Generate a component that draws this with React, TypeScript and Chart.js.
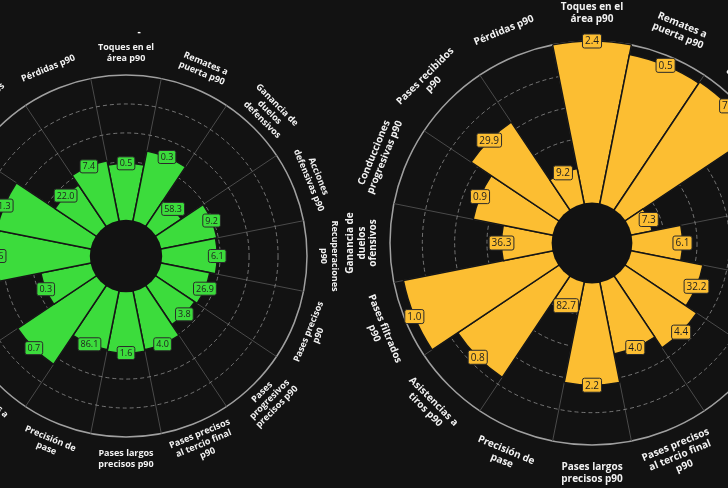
import React, { useEffect, useRef } from "react";
import { Chart, registerables } from "chart.js";
Chart.register(...registerables);

const BG = "#121212";

const categories: string[][] = [
  ["Toques en el", "área p90"],
  ["Remates a", "puerta p90"],
  ["Ganancia de", "duelos", "defensivos"],
  ["Acciones", "defensivas p90"],
  ["Recuperaciones", "p90"],
  ["Pases precisos", "p90"],
  ["Pases", "progresivos", "precisos p90"],
  ["Pases precisos", "al tercio final", "p90"],
  ["Pases largos", "precisos p90"],
  ["Precisión de", "pase"],
  ["Asistencias a", "tiros p90"],
  ["Pases filtrados", "p90"],
  ["Ganancia de", "duelos", "ofensivos"],
  ["Conducciones", "progresivas p90"],
  ["Pases recibidos", "p90"],
  ["Pérdidas p90"],
];

// percentile ranks (bar length)
const leftPercentiles = [39, 49, 21, 39, 38, 34, 32, 41, 42, 41, 65, 35, 64, 66, 34, 42];
// raw values shown in the boxes
const leftValues = ["0.5", "0.3", "58.3", "9.2", "6.1", "26.9", "3.8", "4.0", "1.6", "86.1", "0.7", "0.3", "0.6", "1.3", "22.0", "7.4"];

const rightPercentiles = [100, 94, 95, 13, 31, 45, 53, 45, 63, 17, 75, 94, 31, 50, 65, 22];
const rightValues = ["2.4", "0.5", "7.7", "7.3", "6.1", "32.2", "4.4", "4.0", "2.2", "82.7", "0.8", "1.0", "36.3", "0.9", "29.9", "9.2"];

const gridValues = [0, 20, 40, 60, 80, 100];

type PizzaProps = {
  pct: number[];
  vals: string[];
  color: string;
  R: number;
  pad: number;
  labelGap: number;
  labelFont: number;
  lineH: number;
  boxFont: number;
  left: number;
  top: number;
  title?: string;
};

function Pizza(p: PizzaProps) {
  const ref = useRef<HTMLCanvasElement>(null);
  const S = 2 * (p.R + p.pad);
  useEffect(() => {
    if (!ref.current) return;
    const setTicks = (sc: any) => {
      sc.ticks = gridValues.map((v) => ({ value: v }));
    };
    const decor = {
      id: "pizzaDecor",
      afterDatasetsDraw(chart: any) {
        const s = chart.scales.r;
        const ctx = chart.ctx;
        ctx.save();
        ctx.fillStyle = BG;
        ctx.beginPath();
        ctx.arc(s.xCenter, s.yCenter, s.getDistanceFromCenterForValue(0), 0, Math.PI * 2);
        ctx.fill();
        ctx.restore();
      },
      afterDraw(chart: any) {
        const s = chart.scales.r;
        const ctx = chart.ctx;
        const n = categories.length;
        const xc = s.xCenter;
        const yc = s.yCenter;
        const R = s.drawingArea;
        ctx.save();
        // category labels
        ctx.fillStyle = "#f2f2f2";
        ctx.textAlign = "center";
        ctx.textBaseline = "middle";
        ctx.font = `bold ${p.labelFont}px "Open Sans"`;
        for (let i = 0; i < n; i++) {
          const a = s.getIndexAngle(i) + Math.PI / n;
          let deg = ((a * 180) / Math.PI) % 360;
          if (deg < 0) deg += 360;
          const d = R + p.labelGap;
          const x = xc + d * Math.sin(a);
          const y = yc - d * Math.cos(a);
          const rot = deg > 90.5 && deg < 269.5 ? deg - 180 : deg;
          const lines = categories[i];
          ctx.save();
          ctx.translate(x, y);
          ctx.rotate((rot * Math.PI) / 180);
          lines.forEach((ln, k) => {
            ctx.fillText(ln, 0, (k - (lines.length - 1) / 2) * p.lineH);
          });
          ctx.restore();
        }
        // value boxes
        ctx.font = `${p.boxFont}px "Open Sans"`;
        for (let i = 0; i < n; i++) {
          const a = s.getIndexAngle(i) + Math.PI / n;
          const r = s.getDistanceFromCenterForValue(p.pct[i]);
          const bx = xc + r * Math.sin(a);
          const by = yc - r * Math.cos(a);
          const tw = ctx.measureText(p.vals[i]).width;
          const w = tw + 5;
          const h = p.boxFont + 4;
          ctx.beginPath();
          ctx.roundRect(bx - w / 2, by - h / 2, w, h, 2);
          ctx.fillStyle = p.color;
          ctx.fill();
          ctx.lineWidth = 1;
          ctx.strokeStyle = "#2a2a2a";
          ctx.stroke();
          ctx.fillStyle = "#1e1e1e";
          ctx.fillText(p.vals[i], bx, by + 0.5);
        }
        if (p.title) {
          ctx.fillStyle = "#ffffff";
          ctx.font = `bold 10px "Open Sans"`;
          ctx.fillText(p.title, xc + 13, yc - 224);
        }
        ctx.restore();
      },
    };
    const chart = new Chart(ref.current, {
      type: "polarArea",
      data: {
        labels: categories.map((c) => c.join(" ")),
        datasets: [
          {
            data: p.pct,
            backgroundColor: p.color,
            borderColor: "#161616",
            borderWidth: 1.5,
            rAxisID: "r",
          } as any,
        ],
      },
      options: {
        animation: false,
        responsive: false,
        events: [],
        layout: { padding: p.pad },
        plugins: { legend: { display: false }, tooltip: { enabled: false } },
        scales: {
          r: {
            type: "radialLinear",
            min: -25,
            max: 100,
            startAngle: -11.25,
            afterBuildTicks: setTicks,
            ticks: { display: false },
            pointLabels: { display: false },
            angleLines: { display: true, color: "#4a4a4a", lineWidth: 1 },
            grid: {
              circular: true,
              lineWidth: 1.5,
              color: (c: any) => (c.tick && c.tick.value === 100 ? "#a0a0a0" : "rgba(0,0,0,0)"),
            },
          },
          r2: {
            type: "radialLinear",
            axis: "r",
            z: 1,
            min: -25,
            max: 100,
            startAngle: -11.25,
            afterBuildTicks: setTicks,
            ticks: { display: false },
            pointLabels: { display: false },
            angleLines: { display: false },
            grid: {
              circular: true,
              lineWidth: 1,
              color: (c: any) =>
                c.tick && c.tick.value > 0 && c.tick.value < 100 ? "rgba(150,150,150,0.75)" : "rgba(0,0,0,0)",
            },
            border: { dash: [4, 3] },
          },
        } as any,
      },
      plugins: [decor],
    });
    return () => chart.destroy();
  }, []);
  return (
    <canvas
      ref={ref}
      width={S}
      height={S}
      style={{ position: "absolute", left: p.left, top: p.top, width: S, height: S, display: "block" }}
    />
  );
}

export default function App() {
  const lR = 181, lPad = 70;
  const rR = 202, rPad = 78;
  return (
    <div
      style={{
        position: "fixed",
        left: 0,
        top: 0,
        width: 728,
        height: 488,
        overflow: "hidden",
        background: BG,
      }}
    >
      <Pizza
        pct={leftPercentiles}
        vals={leftValues}
        color="#3cdc3c"
        R={lR}
        pad={lPad}
        labelGap={22}
        labelFont={9}
        lineH={10.5}
        boxFont={9}
        left={126 - (lR + lPad)}
        top={256 - (lR + lPad)}
        title="-"
      />
      <Pizza
        pct={rightPercentiles}
        vals={rightValues}
        color="#fcbe32"
        R={rR}
        pad={rPad}
        labelGap={28}
        labelFont={10}
        lineH={11.5}
        boxFont={10}
        left={592 - (rR + rPad)}
        top={243 - (rR + rPad)}
      />
    </div>
  );
}
